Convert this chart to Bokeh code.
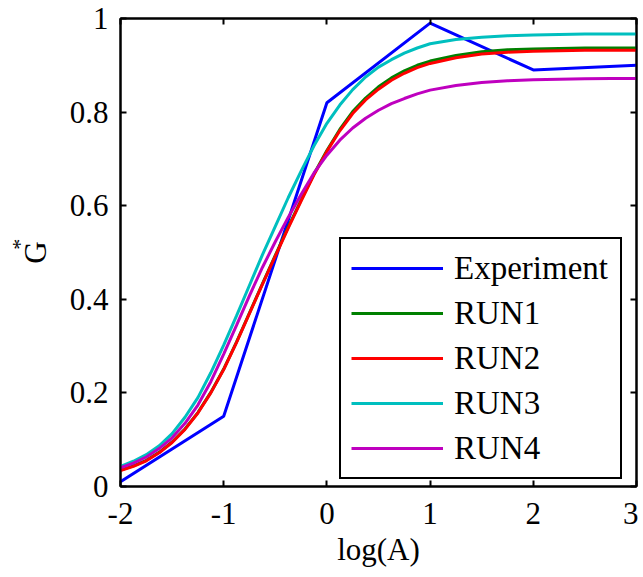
from bokeh.plotting import figure
from bokeh.models import Range1d, LinearAxis, Legend, LegendItem, FixedTicker
from bokeh.embed import file_html
from bokeh.resources import INLINE

# ---- data ----
exp_x = [-2, -1, 0, 1, 2, 3]
exp_y = [0.01, 0.15, 0.82, 0.99, 0.89, 0.90]

run_x = [-2, -1.875, -1.75, -1.625, -1.5, -1.375, -1.25, -1.125, -1, -0.875, -0.75,
         -0.625, -0.5, -0.375, -0.25, -0.125, 0, 0.125, 0.25, 0.375, 0.5, 0.625,
         0.75, 0.875, 1, 1.25, 1.5, 1.75, 2, 2.25, 2.5, 2.75, 3]
run1_y = [0.035, 0.044, 0.056, 0.073, 0.095, 0.123, 0.158, 0.201, 0.251, 0.309, 0.371,
          0.433, 0.494, 0.554, 0.612, 0.668, 0.718, 0.763, 0.801, 0.830, 0.854, 0.873,
          0.888, 0.900, 0.909, 0.921, 0.929, 0.933, 0.935, 0.936, 0.937, 0.937, 0.937]
run2_y = [0.034, 0.043, 0.055, 0.072, 0.094, 0.122, 0.157, 0.200, 0.250, 0.308, 0.370,
          0.432, 0.492, 0.552, 0.610, 0.666, 0.716, 0.760, 0.797, 0.826, 0.849, 0.868,
          0.883, 0.895, 0.904, 0.916, 0.924, 0.928, 0.930, 0.931, 0.932, 0.932, 0.932]
run3_y = [0.043, 0.054, 0.068, 0.087, 0.113, 0.148, 0.190, 0.243, 0.302, 0.365, 0.430,
          0.495, 0.556, 0.617, 0.674, 0.728, 0.776, 0.815, 0.848, 0.875, 0.896, 0.912,
          0.926, 0.937, 0.946, 0.955, 0.960, 0.963, 0.965, 0.966, 0.967, 0.967, 0.967]
run4_y = [0.040, 0.050, 0.063, 0.081, 0.104, 0.135, 0.174, 0.224, 0.283, 0.345, 0.408,
          0.468, 0.523, 0.575, 0.624, 0.670, 0.708, 0.740, 0.766, 0.787, 0.804, 0.818,
          0.829, 0.839, 0.847, 0.857, 0.863, 0.867, 0.869, 0.870, 0.871, 0.872, 0.872]

series_names = ["Experiment", "RUN1", "RUN2", "RUN3", "RUN4"]
series_colors = ["#0000FF", "#008000", "#FF0000", "#00BFBF", "#BF00BF"]

x_ticks = [-2, -1, 0, 1, 2, 3]
x_tick_labels = {-2: "-2", -1: "-1", 0: "0", 1: "1", 2: "2", 3: "3"}
y_ticks = [0, 0.2, 0.4, 0.6, 0.8, 1]
y_tick_labels = {0: "0", 0.2: "0.2", 0.4: "0.4", 0.6: "0.6", 0.8: "0.8", 1: "1"}

FONT = "Liberation Serif"
FS = "31px"

p = figure(width=638, height=569, output_backend="svg", toolbar_location=None,
           x_range=Range1d(-2, 3), y_range=Range1d(0, 1),
           min_border_left=120, min_border_right=2, min_border_top=18, min_border_bottom=81)
p.background_fill_color = "white"
p.border_fill_color = "white"
p.grid.visible = False
p.outline_line_color = "black"
p.outline_line_width = 2

xax = p.xaxis[0]
yax = p.yaxis[0]
for ax in [xax, yax]:
    ax.axis_line_color = "black"
    ax.axis_line_width = 2
    ax.major_tick_in = 6
    ax.major_tick_out = 0
    ax.major_tick_line_width = 2
    ax.major_tick_line_color = "black"
    ax.minor_tick_line_color = None
    ax.major_label_text_font = FONT
    ax.major_label_text_font_size = FS
    ax.major_label_text_color = "black"
    ax.axis_label_text_font = FONT
    ax.axis_label_text_font_size = FS
    ax.axis_label_text_font_style = "normal"
    ax.axis_label_text_color = "black"

xax.ticker = FixedTicker(ticks=x_ticks)
yax.ticker = FixedTicker(ticks=y_ticks)
xax.major_label_overrides = x_tick_labels
yax.major_label_overrides = y_tick_labels
xax.axis_label = "log(A)"
yax.axis_label = "G"
xax.major_label_standoff = 16
yax.major_label_standoff = 12
xax.axis_label_standoff = 5
yax.axis_label_standoff = 14

# superscript star of G*, carried by an extra bare axis further out on the left
star_axis = LinearAxis(ticker=FixedTicker(ticks=[]), axis_line_color=None,
                       major_tick_line_color=None, minor_tick_line_color=None,
                       major_label_text_font_size="1px", major_label_standoff=0,
                       axis_label="\u00a0\u00a0\u00a0*", axis_label_text_font=FONT,
                       axis_label_text_font_size="22px", axis_label_text_font_style="normal",
                       axis_label_text_color="black", axis_label_standoff=-17)
p.add_layout(star_axis, "left")

# mirrored axes (box ticks)
top = LinearAxis(ticker=FixedTicker(ticks=x_ticks), major_label_text_color=None,
                 major_tick_in=6, major_tick_out=0, major_tick_line_width=2,
                 minor_tick_line_color=None, axis_line_width=2)
right = LinearAxis(ticker=FixedTicker(ticks=y_ticks), major_label_text_color=None,
                   major_tick_in=6, major_tick_out=0, major_tick_line_width=2,
                   minor_tick_line_color=None, axis_line_width=2)
for ax in (top, right):
    ax.major_label_text_font_size = "1px"
    ax.major_label_standoff = 0
p.add_layout(top, "above")
p.add_layout(right, "right")

lw = 3
r_exp = p.line(exp_x, exp_y, line_color=series_colors[0], line_width=lw)
r1 = p.line(run_x, run1_y, line_color=series_colors[1], line_width=lw)
r2 = p.line(run_x, run2_y, line_color=series_colors[2], line_width=lw)
r3 = p.line(run_x, run3_y, line_color=series_colors[3], line_width=lw)
r4 = p.line(run_x, run4_y, line_color=series_colors[4], line_width=lw)
renderers = [r_exp, r1, r2, r3, r4]

legend = Legend(items=[LegendItem(label=n, renderers=[r]) for n, r in zip(series_names, renderers)],
                location=(219, 7))
legend.label_text_font = FONT
legend.label_text_font_size = "33px"
legend.label_text_color = "black"
legend.glyph_width = 92
legend.glyph_height = 38
legend.label_height = 38
legend.label_width = 156
legend.label_standoff = 11
legend.spacing = 7
legend.padding = 10
legend.margin = 0
legend.border_line_color = "black"
legend.border_line_alpha = 1
legend.border_line_width = 2
legend.background_fill_color = "white"
legend.background_fill_alpha = 1
p.add_layout(legend, "center")

open("out.html", "w").write(file_html(p, INLINE))
